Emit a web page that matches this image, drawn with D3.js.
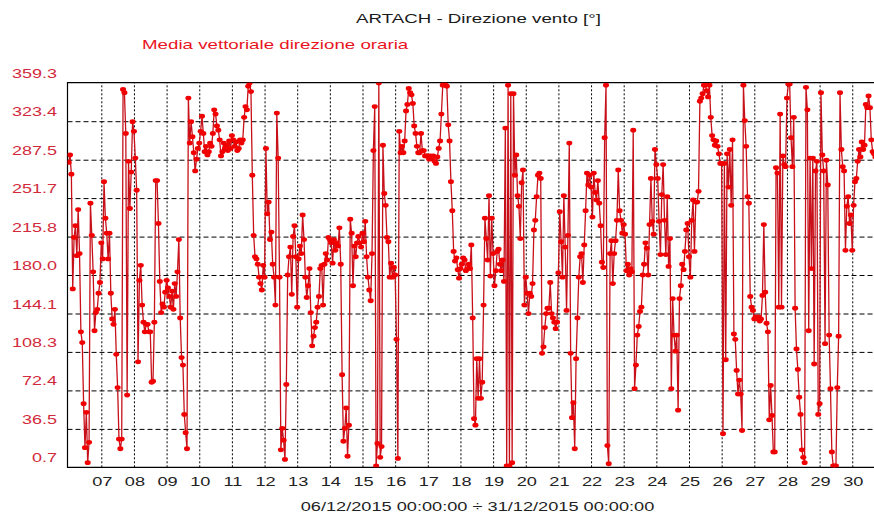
<!DOCTYPE html>
<html><head><meta charset="utf-8">
<script src="https://cdn.jsdelivr.net/npm/d3@7"></script>
<style>body{margin:0;background:#fff}svg{display:block;font-family:"Liberation Sans",Arial,sans-serif}</style>
</head><body><svg id="c" width="874" height="512"></svg>
<script>
const titleText = "ARTACH - Direzione vento [°]";
const seriesName = "Media vettoriale direzione oraria";
const periodText = "06/12/2015 00:00:00 ÷ 31/12/2015 00:00:00";
const startDate = Date.UTC(2015, 11, 6);
const endDate = Date.UTC(2015, 11, 31);
const dayLabels = ["07","08","09","10","11","12","13","14","15","16","17","18","19","20","21","22","23","24","25","26","27","28","29","30"];
const yTickValues = [0.7, 36.5, 72.4, 108.3, 144.1, 180.0, 215.8, 251.7, 287.5, 323.4, 359.3];
// hourly vector-mean wind direction (deg), one line per day starting 06/12 00:00
const hourlyDirection = [
285,292,274,167,215,226,198,241,200,127,117,60,19,52,5,24,247,217,183,128,145,148,163,173,
210,195,267,233,219,195,219,163,139,134,148,106,75,27,18,27,353,350,312,68,286,242,276,323,
314,289,259,99,175,189,152,136,127,134,134,127,127,80,81,136,268,268,228,174,145,153,150,164,
175,168,160,150,165,148,172,160,183,213,140,103,96,50,33,18,345,303,323,309,294,277,288,298,
303,314,328,312,295,300,292,295,303,300,312,334,330,319,315,306,291,295,303,298,301,296,305,298,
310,306,300,304,296,298,306,303,306,327,337,334,356,359,351,273,217,197,195,190,178,172,166,189,
178,298,237,248,213,220,190,178,152,331,289,178,17,37,26,8,78,180,197,206,162,216,226,197,
150,195,207,200,236,213,178,159,170,186,145,114,123,131,136,150,160,186,189,152,190,200,194,215,
213,210,191,213,203,210,207,224,190,87,25,37,56,11,40,232,219,170,207,197,210,216,210,206,
219,211,230,197,178,166,156,200,296,337,2,23,359,10,20,301,256,245,215,211,178,191,178,187,
180,120,9,314,294,300,294,305,333,339,354,350,348,340,319,312,300,294,294,312,296,296,291,291,
291,288,291,289,291,286,284,290,298,305,330,357,359,357,356,320,305,267,240,202,193,196,185,177,
186,190,196,194,184,186,190,186,208,140,46,40,102,65,102,65,80,152,233,214,194,254,179,233,
200,170,184,202,204,190,184,194,174,317,2,357,2,349,5,349,273,292,254,244,214,266,278,152,
178,163,144,163,160,172,222,231,253,273,275,270,107,113,131,144,149,149,173,144,140,136,130,136,
182,239,211,178,254,206,147,217,303,107,47,61,18,102,140,178,197,200,173,208,240,275,264,273,
262,234,275,257,250,268,247,226,192,187,308,357,21,4,200,212,172,200,212,231,278,240,231,219,
227,218,184,190,180,186,183,315,74,96,124,132,146,150,180,190,210,205,180,227,270,230,218,297,
283,270,230,199,255,283,231,199,253,188,214,74,158,124,109,124,54,158,170,190,185,202,222,228,
197,178,231,250,202,248,248,258,342,345,349,357,357,352,346,357,327,310,306,301,305,300,293,284,
284,32,284,101,293,262,297,245,306,125,120,91,69,82,69,35,357,324,300,253,247,160,150,147,
139,141,139,141,137,139,161,227,164,135,127,45,77,49,15,15,280,275,150,330,150,291,283,281,
345,358,358,308,281,327,149,111,92,66,50,17,10,5,355,334,128,289,186,289,97,277,286,50,
60,350,292,277,116,287,264,124,74,15,2,2,2,75,123,350,297,281,277,203,244,253,228,236,
203,245,267,270,286,297,290,304,297,301,339,336,347,336,306,295,293,290
];

const W = 874, H = 512;
const plotLeft = 67.5, plotTop = 82.7, plotBottom = 467.3;
const SX = 1.44; // horizontal stretch of the original rendering
const svg = d3.select("#c");

const x = d3.scaleUtc().domain([new Date(startDate), new Date(endDate)]).range([68.65, 884.9]);
const y = d3.scaleLinear().domain([0.7, 359.3]).range([plotBottom, plotTop]);

const dayDates = dayLabels.map((d, i) => new Date(startDate + (i + 1) * 864e5));
const points = hourlyDirection.map((v, i) => ({t: new Date(startDate + i * 36e5), v}));

// grid: horizontal dashed
svg.append("g").attr("transform", `translate(${plotLeft},0)`)
  .call(d3.axisLeft(y).tickValues(yTickValues.slice(1, -1)).tickSize(-(W - plotLeft)).tickFormat(""))
  .call(g => g.select(".domain").remove())
  .call(g => g.selectAll("line").attr("stroke", "#000").attr("stroke-width", 1).attr("stroke-dasharray", "5,3"));

// grid: vertical dotted
svg.append("g").attr("transform", `translate(0,${plotBottom})`)
  .call(d3.axisBottom(x).tickValues(dayDates).tickSize(-(plotBottom - plotTop)).tickFormat(""))
  .call(g => g.select(".domain").remove())
  .call(g => g.selectAll("line").attr("stroke", "#000").attr("stroke-width", 1).attr("stroke-dasharray", "2,2"));

// frame
svg.append("path").attr("d", `M${W + 5},${plotTop}H${plotLeft}V${plotBottom}H${W + 5}`)
  .attr("fill", "none").attr("stroke", "#000").attr("stroke-width", 1.2);

// clip
svg.append("clipPath").attr("id", "clip").append("rect")
  .attr("x", plotLeft).attr("y", plotTop).attr("width", W - plotLeft).attr("height", plotBottom - plotTop);

const plot = svg.append("g").attr("clip-path", "url(#clip)");
plot.append("path").datum(points)
  .attr("fill", "none").attr("stroke", "#c8101a").attr("stroke-width", 1.3)
  .attr("d", d3.line().x(d => x(d.t)).y(d => y(d.v)));
plot.selectAll("ellipse").data(points).join("ellipse")
  .attr("cx", d => x(d.t)).attr("cy", d => y(d.v))
  .attr("rx", 3.0).attr("ry", 2.4).attr("fill", "#f00000");

// y tick labels
svg.append("g").attr("transform", `translate(${plotLeft},0)`)
  .call(d3.axisLeft(y).tickValues(yTickValues).tickSize(0).tickFormat(d3.format(".1f")))
  .call(g => g.select(".domain").remove())
  .call(g => g.selectAll("text")
    .attr("x", null).attr("dy", null)
    .attr("transform", "translate(-10.5,-5.5) scale(" + SX + ",1)")
    .attr("text-anchor", "end").attr("fill", "#d22a3c")
    .attr("font-size", 12.5).attr("font-family", "Liberation Sans, Arial, sans-serif"));

// x tick labels
svg.append("g").attr("transform", `translate(0,${plotBottom})`)
  .call(d3.axisBottom(x).tickValues(dayDates).tickSize(0).tickFormat((d, i) => dayLabels[i]))
  .call(g => g.select(".domain").remove())
  .call(g => g.selectAll("text")
    .attr("y", null).attr("dy", null)
    .attr("transform", "translate(0.5,18.7) scale(1.4,1)")
    .attr("text-anchor", "middle").attr("fill", "#222")
    .attr("font-size", 13).attr("font-family", "Liberation Sans, Arial, sans-serif"));

function stretched(txt, px, py, anchor, color, size, sx) {
  svg.append("text").attr("transform", `translate(${px},${py}) scale(${sx},1)`)
    .attr("text-anchor", anchor).attr("fill", color).attr("font-size", size).text(txt);
}
stretched(titleText, 478.5, 23, "middle", "#1a1a1a", 13, SX);
stretched(seriesName, 142, 49, "start", "#e8141e", 13, SX);
stretched(periodText, 477.5, 510.5, "middle", "#222", 13, 1.4);
</script></body></html>
